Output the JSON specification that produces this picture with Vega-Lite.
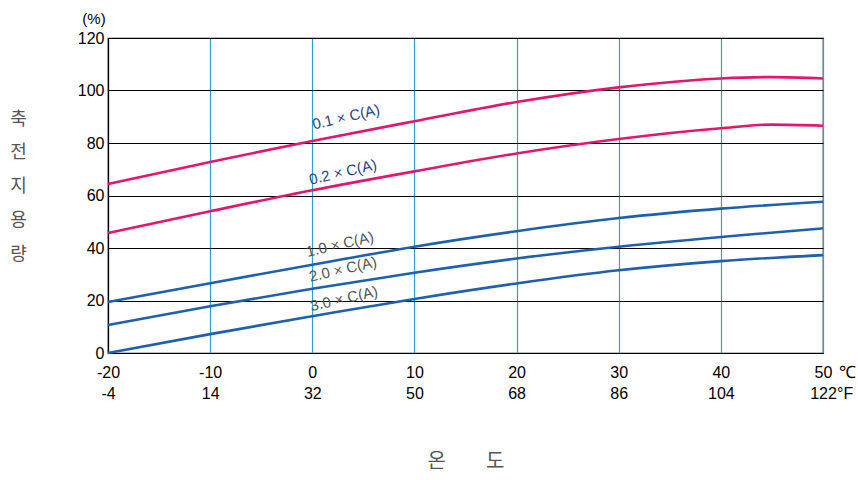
{
  "$schema": "https://vega.github.io/schema/vega-lite/v6.json",
  "autosize": {"type": "none"},
  "padding": {"left": 108, "top": 38, "right": 35, "bottom": 127},
  "width": 715,
  "height": 315,
  "background": "white",
  "config": {
    "view": {"stroke": "black", "strokeWidth": 1.2},
    "font": "Liberation Sans"
  },
  "datasets": {
    "curves": [
      {"s": "0.1", "t": -20, "v": 64.4}, {"s": "0.1", "t": -10, "v": 72.8}, {"s": "0.1", "t": 0, "v": 80.8}, {"s": "0.1", "t": 10, "v": 88.3}, {"s": "0.1", "t": 20, "v": 95.6}, {"s": "0.1", "t": 30, "v": 101.2}, {"s": "0.1", "t": 40, "v": 104.6}, {"s": "0.1", "t": 45, "v": 105.1}, {"s": "0.1", "t": 50, "v": 104.6},
      {"s": "0.2", "t": -20, "v": 45.7}, {"s": "0.2", "t": -10, "v": 54.0}, {"s": "0.2", "t": 0, "v": 62.0}, {"s": "0.2", "t": 10, "v": 69.2}, {"s": "0.2", "t": 20, "v": 76.0}, {"s": "0.2", "t": 30, "v": 81.5}, {"s": "0.2", "t": 40, "v": 85.6}, {"s": "0.2", "t": 45, "v": 87.0}, {"s": "0.2", "t": 50, "v": 86.6},
      {"s": "1.0", "t": -20, "v": 19.4}, {"s": "1.0", "t": -10, "v": 26.6}, {"s": "1.0", "t": 0, "v": 33.6}, {"s": "1.0", "t": 10, "v": 40.5}, {"s": "1.0", "t": 20, "v": 46.4}, {"s": "1.0", "t": 30, "v": 51.4}, {"s": "1.0", "t": 40, "v": 55.0}, {"s": "1.0", "t": 50, "v": 57.6},
      {"s": "2.0", "t": -20, "v": 10.7}, {"s": "2.0", "t": -10, "v": 17.8}, {"s": "2.0", "t": 0, "v": 24.5}, {"s": "2.0", "t": 10, "v": 30.6}, {"s": "2.0", "t": 20, "v": 36.0}, {"s": "2.0", "t": 30, "v": 40.5}, {"s": "2.0", "t": 40, "v": 44.2}, {"s": "2.0", "t": 50, "v": 47.5},
      {"s": "3.0", "t": -20, "v": 0.0}, {"s": "3.0", "t": -10, "v": 7.2}, {"s": "3.0", "t": 0, "v": 14.0}, {"s": "3.0", "t": 10, "v": 20.6}, {"s": "3.0", "t": 20, "v": 26.5}, {"s": "3.0", "t": 30, "v": 31.5}, {"s": "3.0", "t": 40, "v": 35.0}, {"s": "3.0", "t": 50, "v": 37.3}
    ],
    "labels": [
      {"label": "0.1 × C(A)", "t": 0.2, "v": 84.0, "c": "#2b3f80"},
      {"label": "0.2 × C(A)", "t": -0.1, "v": 63.0, "c": "#2b3f80"},
      {"label": "1.0 × C(A)", "t": -0.4, "v": 35.5, "c": "#555555"},
      {"label": "2.0 × C(A)", "t": -0.1, "v": 26.0, "c": "#555555"},
      {"label": "3.0 × C(A)", "t": 0.0, "v": 14.8, "c": "#555555"}
    ]
  },
  "layer": [
    {
      "data": {"name": "curves"},
      "mark": {"type": "line", "interpolate": "monotone", "strokeWidth": 2.6},
      "encoding": {
        "x": {
          "field": "t", "type": "quantitative",
          "scale": {"domain": [-20, 50], "nice": false, "zero": false},
          "axis": {
            "values": [-20, -10, 0, 10, 20, 30, 40, 50],
            "labelExpr": "['' + datum.value, '' + (datum.value * 9 / 5 + 32)]",
            "labelFontSize": 16, "labelColor": "black", "labelLineHeight": 21, "labelPadding": 11,
            "ticks": false, "domainColor": "black", "domainWidth": 1.2,
            "grid": true, "gridColor": "#2ea3c9", "gridWidth": 1.2, "gridOpacity": 1,
            "labelFlush": false, "labelOverlap": false,
            "title": "온\u2003\u2003도", "titleFont": "Noto Sans CJK KR", "titleFontSize": 20, "titleFontWeight": "normal", "titleColor": "#555555", "titlePadding": 50
          }
        },
        "y": {
          "field": "v", "type": "quantitative",
          "scale": {"domain": [0, 120], "nice": false},
          "axis": {
            "values": [0, 20, 40, 60, 80, 100, 120],
            "labelFontSize": 16, "labelColor": "black", "labelPadding": 4,
            "ticks": false, "domainColor": "black", "domainWidth": 1.2,
            "grid": true, "gridColor": "black", "gridWidth": 1, "gridOpacity": 1,
            "title": ["축", "전", "지", "용", "량"], "titleAngle": 0, "titleFont": "Noto Sans CJK KR", "titleFontSize": 18, "titleFontWeight": "normal", "titleColor": "#555555", "titleLineHeight": 33.8, "titleX": -90, "titleY": 72, "titleAlign": "center", "titleBaseline": "top"
          }
        },
        "color": {
          "field": "s", "type": "nominal",
          "scale": {"domain": ["0.1", "0.2", "1.0", "2.0", "3.0"], "range": ["#e2166f", "#e2166f", "#1f60ad", "#1f60ad", "#1f60ad"]},
          "legend": null
        },
        "detail": {"field": "s"}
      }
    },
    {
      "data": {"name": "labels"},
      "mark": {"type": "text", "align": "left", "baseline": "bottom", "angle": -13, "fontSize": 15, "font": "Liberation Sans"},
      "encoding": {
        "x": {"field": "t", "type": "quantitative"},
        "y": {"field": "v", "type": "quantitative"},
        "text": {"field": "label"},
        "color": {"field": "c", "type": "nominal", "scale": null}
      }
    },
    {
      "data": {"values": [{"u": "℃", "t": 50, "v": 0}]},
      "mark": {"type": "text", "align": "left", "baseline": "middle", "fontSize": 17, "dx": 16, "dy": 20, "color": "black"},
      "encoding": {
        "x": {"field": "t", "type": "quantitative"},
        "y": {"field": "v", "type": "quantitative"},
        "text": {"field": "u"}
      }
    },
    {
      "data": {"values": [{"u": "°F", "t": 50, "v": 0}]},
      "mark": {"type": "text", "align": "left", "baseline": "middle", "fontSize": 16, "dx": 14, "dy": 41, "color": "black"},
      "encoding": {
        "x": {"field": "t", "type": "quantitative"},
        "y": {"field": "v", "type": "quantitative"},
        "text": {"field": "u"}
      }
    },
    {
      "data": {"values": [{"u": "(%)", "t": -20, "v": 120}]},
      "mark": {"type": "text", "align": "center", "baseline": "middle", "fontSize": 15, "dx": -14, "dy": -19, "color": "black"},
      "encoding": {
        "x": {"field": "t", "type": "quantitative"},
        "y": {"field": "v", "type": "quantitative"},
        "text": {"field": "u"}
      }
    }
  ]
}
